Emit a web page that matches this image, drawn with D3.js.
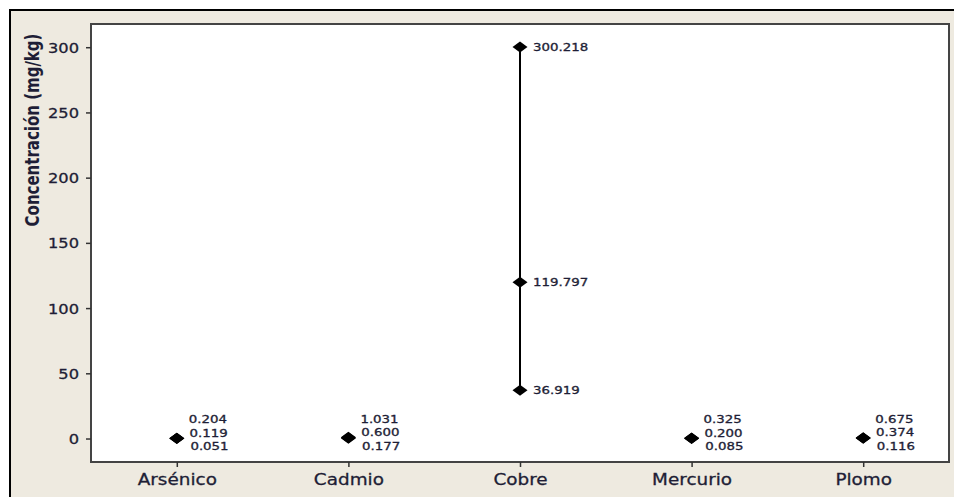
<!DOCTYPE html>
<html>
<head>
<meta charset="utf-8">
<script src="https://cdn.jsdelivr.net/npm/d3@7"></script>
<style>
  html, body { margin: 0; padding: 0; background: #ffffff; }
  svg { display: block; }
  text { font-family: "DejaVu Sans", Verdana, sans-serif; fill: #1e1e36; }
  .heavy { stroke: #1e1e36; stroke-width: 0.3px; }
</style>
</head>
<body>
<svg id="chart" width="954" height="497"></svg>
<script>
// ---- data ----
const categories = ["Arsénico", "Cadmio", "Cobre", "Mercurio", "Plomo"];
const minValues  = [0.051, 0.177, 36.919, 0.085, 0.116];
const meanValues = [0.119, 0.600, 119.797, 0.200, 0.374];
const maxValues  = [0.204, 1.031, 300.218, 0.325, 0.675];
const yTicks     = [0, 50, 100, 150, 200, 250, 300];
const yTitle     = "Concentración (mg/kg)";

// ---- layout ----
const W = 954, H = 497;
const plot = { left: 91, right: 949, top: 24, bottom: 462 };
const bg = "#eeeae0";

const svg = d3.select("#chart");

// outer panel with black frame (top/left)
svg.append("rect").attr("x", 10).attr("y", 10).attr("width", W + 10).attr("height", H + 10)
  .attr("fill", bg).attr("stroke", "#000").attr("stroke-width", 2);

const x = d3.scalePoint().domain(categories).range([plot.left, plot.right]).padding(0.5);
const y = d3.scaleLinear().domain([-18, 317.8]).range([plot.bottom, plot.top]);

// plot area
svg.append("rect")
  .attr("x", plot.left).attr("y", plot.top)
  .attr("width", plot.right - plot.left).attr("height", plot.bottom - plot.top)
  .attr("fill", "#ffffff").attr("stroke", "#444").attr("stroke-width", 2);

function stretch(sel, sx) {
  sel.each(function () {
    const t = d3.select(this);
    const tx = +t.attr("data-x"), ty = +t.attr("data-y");
    t.attr("transform", `translate(${tx},${ty}) scale(${sx},1)`);
  });
}

// y axis
const yAxis = d3.axisLeft(y).tickValues(yTicks).tickSize(5).tickSizeOuter(0).tickPadding(7);
const gy = svg.append("g").attr("transform", `translate(${plot.left},0)`).call(yAxis);
gy.select(".domain").remove();
gy.selectAll(".tick line").attr("stroke", "#333").attr("stroke-width", 1.5);
gy.selectAll(".tick text")
  .attr("x", null).attr("dy", "0.36em")
  .attr("data-x", -12).attr("data-y", 0)
  .attr("class", "heavy")
  .style("font-size", "14px").style("font-family", "DejaVu Sans, sans-serif").attr("fill", "#1e1e36");
stretch(gy.selectAll(".tick text"), 1.16);

// x axis
const xAxis = d3.axisBottom(x).tickSize(5).tickSizeOuter(0).tickPadding(8);
const gx = svg.append("g").attr("transform", `translate(0,${plot.bottom})`).call(xAxis);
gx.select(".domain").remove();
gx.selectAll(".tick line").attr("stroke", "#333").attr("stroke-width", 1.5);
gx.selectAll(".tick text").attr("y", null).attr("dy", null)
  .attr("data-x", 0).attr("data-y", 23)
  .attr("class", "heavy")
  .style("font-size", "16px").style("font-family", "DejaVu Sans, sans-serif").attr("fill", "#1e1e36");
stretch(gx.selectAll(".tick text"), 1.15);

// y title
svg.append("text")
  .attr("transform", `translate(38.5,130) scale(1.25,1) rotate(-90)`)
  .attr("text-anchor", "middle")
  .style("font-size", "15px").style("font-weight", "bold")
  .text(yTitle);

// data rows
const rows = categories.map((c, i) => ({
  cat: c, min: minValues[i], mean: meanValues[i], max: maxValues[i]
}));

const fmt = d3.format(".3f");
const diamond = "M0,-5.5L7.5,0L0,5.5L-7.5,0Z";

const g = svg.append("g");
rows.forEach(r => {
  const cx = x(r.cat);
  g.append("line")
    .attr("x1", cx).attr("x2", cx)
    .attr("y1", y(r.min)).attr("y2", y(r.max))
    .attr("stroke", "#000").attr("stroke-width", 2);
  [r.min, r.mean, r.max].forEach(v => {
    g.append("path").attr("d", diamond)
      .attr("transform", `translate(${cx},${y(v)})`).attr("fill", "#000");
  });
  const vals = [r.max, r.mean, r.min];
  const spread = y(r.min) - y(r.max);
  const stacked = spread < 40;
  vals.forEach((v, k) => {
    let ly, lx;
    if (stacked) {
      ly = y(r.mean) - 19 + k * 13.5;
      lx = cx + 12 + k * 0.8;
    } else {
      ly = y(v);
      lx = cx + 13;
    }
    g.append("text")
      .attr("class", "heavy")
      .attr("data-x", lx).attr("data-y", ly)
      .attr("dy", "0.36em")
      .style("font-size", "10.5px")
      .text(fmt(v));
  });
});
stretch(g.selectAll("text"), 1.27);
</script>
</body>
</html>
